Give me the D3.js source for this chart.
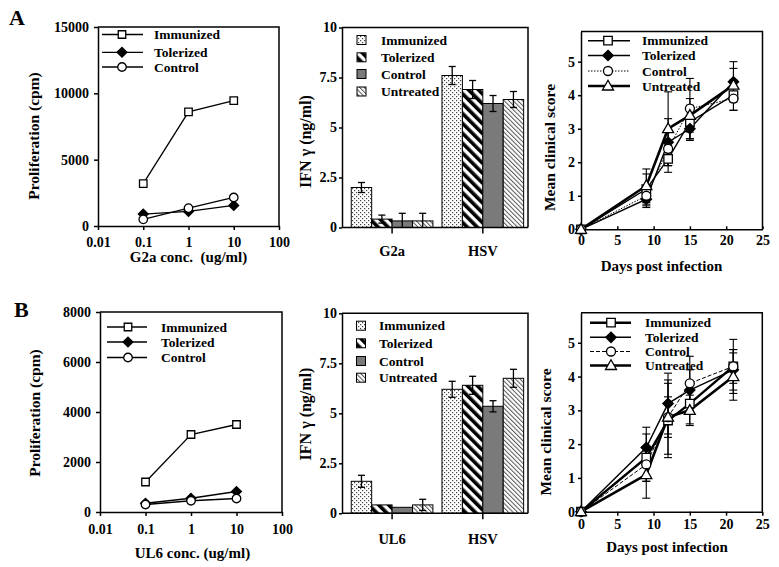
<!DOCTYPE html>
<html><head><meta charset="utf-8">
<script src="https://cdnjs.cloudflare.com/ajax/libs/d3/7.8.5/d3.min.js"></script>
<style>
body{margin:0;background:#fff}
text{font-family:"Liberation Serif","Times New Roman",serif;font-weight:bold;fill:#000}
</style>
</head><body>
<svg id="c" width="779" height="567"></svg>
<script>
// ---------------- DATA ----------------
const concentrations = [0.1, 1, 10];
const concTicks = [0.01, 0.1, 1, 10, 100];

const profA_Immunized = [3200, 8600, 9450];
const profA_Tolerized = [900, 1100, 1550];
const profA_Control   = [500, 1350, 2150];
const profA_yTicks = [0, 5000, 10000, 15000];

const profB_Immunized = [1200, 3100, 3500];
const profB_Tolerized = [350, 550, 820];
const profB_Control   = [300, 450, 540];
const profB_yTicks = [0, 2000, 4000, 6000, 8000];

const ifnSeries = ["Immunized", "Tolerized", "Control", "Untreated"];
const ifnGroupsA = ["G2a", "HSV"];
const ifnGroupsB = ["UL6", "HSV"];
const ifnTicks = [0, 2.5, 5, 7.5, 10];

const ifnA_Immunized = [2.0, 7.6];   const ifnA_Immunized_err = [0.25, 0.45];
const ifnA_Tolerized = [0.42, 6.9];  const ifnA_Tolerized_err = [0.2, 0.45];
const ifnA_Control   = [0.33, 6.2];  const ifnA_Control_err   = [0.38, 0.4];
const ifnA_Untreated = [0.33, 6.4];  const ifnA_Untreated_err = [0.38, 0.4];

const ifnB_Immunized = [1.6, 6.2];   const ifnB_Immunized_err = [0.3, 0.4];
const ifnB_Tolerized = [0.42, 6.4];  const ifnB_Tolerized_err = [0, 0.45];
const ifnB_Control   = [0.3, 5.35];  const ifnB_Control_err   = [0, 0.28];
const ifnB_Untreated = [0.42, 6.75]; const ifnB_Untreated_err = [0.28, 0.45];

const days = [0, 9, 12, 15, 21];
const dayTicks = [0, 5, 10, 15, 20, 25];
const scoreTicks = [0, 1, 2, 3, 4, 5];

const scoreA_Immunized = [0, 1.2, 2.1, 3.2, 4.0];  const scoreA_Immunized_err = [0, 0.45, 0.4, 0.5, 0.45];
const scoreA_Tolerized = [0, 0.9, 2.6, 3.0, 4.4];  const scoreA_Tolerized_err = [0, 0.25, 0.7, 0.35, 0.6];
const scoreA_Control   = [0, 1.0, 2.4, 3.6, 3.9];  const scoreA_Control_err   = [0, 0.3, 0.5, 0.9, 0.35];
const scoreA_Untreated = [0, 1.3, 3.0, 3.4, 4.3];  const scoreA_Untreated_err = [0, 0.5, 1.1, 0.5, 0.5];

const scoreB_Immunized = [0, 1.6, 2.7, 3.2, 4.3];  const scoreB_Immunized_err = [0, 0.7, 1.1, 0.6, 0.8];
const scoreB_Tolerized = [0, 1.9, 3.2, 3.6, 4.2];  const scoreB_Tolerized_err = [0, 0.6, 0.9, 0.6, 0.6];
const scoreB_Control   = [0, 1.4, 2.8, 3.8, 4.3];  const scoreB_Control_err   = [0, 0.5, 0.6, 0.8, 0.5];
const scoreB_Untreated = [0, 1.1, 2.8, 3.0, 4.0];  const scoreB_Untreated_err = [0, 0.7, 1.1, 0.45, 0.7];

// ---------------- DRAWING ----------------
const svg = d3.select("#c");
const defs = svg.append("defs");

const pd = defs.append("pattern").attr("id", "pDots").attr("patternUnits", "userSpaceOnUse")
  .attr("width", 4).attr("height", 4);
pd.append("rect").attr("width", 4).attr("height", 4).attr("fill", "#fff");
pd.append("rect").attr("x", 0).attr("y", 0).attr("width", 1.2).attr("height", 1.2).attr("fill", "#444");
pd.append("rect").attr("x", 2).attr("y", 2).attr("width", 1.2).attr("height", 1.2).attr("fill", "#444");

const ps = defs.append("pattern").attr("id", "pStripes").attr("patternUnits", "userSpaceOnUse")
  .attr("width", 7).attr("height", 7).attr("patternTransform", "rotate(-45)");
ps.append("rect").attr("width", 7).attr("height", 7).attr("fill", "#fff");
ps.append("rect").attr("width", 3.6).attr("height", 7).attr("fill", "#000");

const ph = defs.append("pattern").attr("id", "pHatch").attr("patternUnits", "userSpaceOnUse")
  .attr("width", 3.2).attr("height", 3.2).attr("patternTransform", "rotate(-45)");
ph.append("rect").attr("width", 3.2).attr("height", 3.2).attr("fill", "#fff");
ph.append("rect").attr("width", 1.0).attr("height", 3.2).attr("fill", "#555");

const barFills = {Immunized: "url(#pDots)", Tolerized: "url(#pStripes)", Control: "#7a7a7a", Untreated: "url(#pHatch)"};

function markerPath(type, s) {
  const h = s / 2;
  if (type === "square") return `M${-h},${-h}h${s}v${s}h${-s}Z`;
  if (type === "diamond") return `M0,${-h * 1.15}L${h * 1.15},0L0,${h * 1.15}L${-h * 1.15},0Z`;
  if (type === "triangle") return `M0,${-s * 0.6}L${s * 0.58},${s * 0.42}L${-s * 0.58},${s * 0.42}Z`;
  return d3.arc()({innerRadius: 0, outerRadius: h, startAngle: 0, endAngle: 2 * Math.PI});
}
function drawMarker(g, type, x, y, s) {
  g.append("path").attr("d", markerPath(type, s)).attr("transform", `translate(${x},${y})`)
    .attr("fill", type === "diamond" ? "#000" : "#fff").attr("stroke", "#000").attr("stroke-width", 1.3);
}

function styleAxis(ax, size) {
  ax.attr("font-family", null).attr("font-size", size);
  ax.selectAll("path,line").attr("stroke", "#000").attr("stroke-width", 1.5);
}
function frame(g, l, r, t, b) {
  g.append("path").attr("d", `M${l},${t}H${r}V${b}`).attr("fill", "none")
    .attr("stroke", "#000").attr("stroke-width", 1.5);
}
function yTitle(text, x, y, size) {
  svg.append("text").attr("transform", `translate(${x},${y}) rotate(-90)`).attr("dy", "0.35em")
    .attr("text-anchor", "middle").attr("font-size", size).text(text);
}
function xTitle(text, x, y, size) {
  svg.append("text").attr("x", x).attr("y", y).attr("text-anchor", "middle").attr("font-size", size)
    .style("white-space", "pre").text(text);
}

// ---------- Proliferation panels ----------
function prolifPanel(p) {
  const g = svg.append("g");
  const x = d3.scaleLog().domain([0.01, 100]).range([p.l, p.r]);
  const y = d3.scaleLinear().domain([0, p.ymax]).range([p.b, p.t]);
  frame(g, p.l, p.r, p.t, p.b);
  const ya = g.append("g").attr("transform", `translate(${p.l},0)`)
    .call(d3.axisLeft(y).tickValues(p.yTicks).tickSize(4).tickPadding(5).tickSizeOuter(0).tickFormat(d3.format("d")));
  styleAxis(ya, 14);
  const xa = g.append("g").attr("transform", `translate(0,${p.b})`)
    .call(d3.axisBottom(x).tickValues(concTicks).tickSize(4).tickPadding(p.xPad).tickSizeOuter(0).tickFormat(d => String(d)));
  styleAxis(xa, 14);
  const types = ["square", "diamond", "circle"];
  const sizes = [7.5, 8.5, 8.5];
  p.series.forEach((vals) => {
    const pts = concentrations.map((c, k) => [x(c), y(vals[k])]);
    g.append("path").attr("d", d3.line()(pts)).attr("fill", "none").attr("stroke", "#000").attr("stroke-width", 1.3);
  });
  p.series.forEach((vals, i) => {
    concentrations.forEach((c, k) => drawMarker(g, types[i], x(c), y(vals[k]), sizes[i]));
  });
  p.names.forEach((n, i) => {
    const ly = p.legY[i];
    g.append("line").attr("x1", p.legX0).attr("x2", p.legX1).attr("y1", ly).attr("y2", ly)
      .attr("stroke", "#000").attr("stroke-width", 1.3);
    drawMarker(g, types[i], p.legM, ly, sizes[i]);
    g.append("text").attr("x", p.legT).attr("y", ly).attr("dy", "0.35em").attr("font-size", 13.5).text(n);
  });
}

prolifPanel({l: 98, r: 279, t: 27, b: 226, ymax: 15000, yTicks: profA_yTicks, xPad: 7,
  series: [profA_Immunized, profA_Tolerized, profA_Control], names: ["Immunized", "Tolerized", "Control"],
  legX0: 102, legX1: 143, legM: 122, legT: 154, legY: [34.5, 52.3, 67]});
prolifPanel({l: 100, r: 282, t: 312, b: 512, ymax: 8000, yTicks: profB_yTicks, xPad: 8,
  series: [profB_Immunized, profB_Tolerized, profB_Control], names: ["Immunized", "Tolerized", "Control"],
  legX0: 107, legX1: 147, legM: 128, legT: 161, legY: [327, 342, 357.5]});

// ---------- IFN bar panels ----------
function barPanel(p) {
  const g = svg.append("g");
  const y = d3.scaleLinear().domain([0, 10]).range([p.b, p.t]);
  const x0 = d3.scaleBand().domain(p.groups).range([p.l, p.r]).paddingInner(0.1).paddingOuter(0.075).align(0.68);
  const x1 = d3.scaleBand().domain(ifnSeries).range([0, x0.bandwidth()]);
  p.means.forEach((vals, si) => {
    p.groups.forEach((grp, gi) => {
      const bx = x0(grp) + x1(ifnSeries[si]);
      g.append("rect").attr("x", bx).attr("y", y(vals[gi])).attr("width", x1.bandwidth())
        .attr("height", y(0) - y(vals[gi])).attr("fill", barFills[ifnSeries[si]])
        .attr("stroke", "#000").attr("stroke-width", 1);
    });
  });
  p.means.forEach((vals, si) => {
    p.groups.forEach((grp, gi) => {
      const e = p.errs[si][gi];
      if (!e) return;
      const cx = x0(grp) + x1(ifnSeries[si]) + x1.bandwidth() / 2;
      const hi = y(vals[gi] + e), lo = y(Math.max(0, vals[gi] - e));
      g.append("line").attr("x1", cx).attr("x2", cx).attr("y1", hi).attr("y2", lo).attr("stroke", "#000").attr("stroke-width", 1.3);
      g.append("line").attr("x1", cx - 3.5).attr("x2", cx + 3.5).attr("y1", hi).attr("y2", hi).attr("stroke", "#000").attr("stroke-width", 1.3);
      if (vals[gi] - e > 0)
        g.append("line").attr("x1", cx - 3.5).attr("x2", cx + 3.5).attr("y1", lo).attr("y2", lo).attr("stroke", "#000").attr("stroke-width", 1.3);
    });
  });
  frame(g, p.l, p.r, p.t, p.b);
  const ya = g.append("g").attr("transform", `translate(${p.l},0)`)
    .call(d3.axisLeft(y).tickValues(ifnTicks).tickSize(3).tickPadding(2).tickSizeOuter(0).tickFormat(d => String(d)));
  styleAxis(ya, 14);
  const xa = g.append("g").attr("transform", `translate(0,${p.b})`)
    .call(d3.axisBottom(x0).tickSize(6).tickPadding(p.catPad).tickSizeOuter(0));
  styleAxis(xa, 14.5);
  xa.selectAll("path.domain").attr("d", `M${p.l},0H${p.r}`);
  ifnSeries.forEach((n, i) => {
    const ly = p.legY[i];
    g.append("rect").attr("x", p.legX).attr("y", ly - 4.5).attr("width", 9).attr("height", 9)
      .attr("fill", barFills[n]).attr("stroke", "#000").attr("stroke-width", 1);
    g.append("text").attr("x", p.legT).attr("y", ly).attr("dy", "0.35em").attr("font-size", 13.5).text(n);
  });
}

barPanel({l: 342, r: 528, t: 27.5, b: 227.5, groups: ifnGroupsA, catPad: 12,
  means: [ifnA_Immunized, ifnA_Tolerized, ifnA_Control, ifnA_Untreated],
  errs: [ifnA_Immunized_err, ifnA_Tolerized_err, ifnA_Control_err, ifnA_Untreated_err],
  legX: 357, legT: 381, legY: [40, 57.3, 74, 91.5]});
barPanel({l: 342, r: 528, t: 313.3, b: 513.3, groups: ifnGroupsB, catPad: 14,
  means: [ifnB_Immunized, ifnB_Tolerized, ifnB_Control, ifnB_Untreated],
  errs: [ifnB_Immunized_err, ifnB_Tolerized_err, ifnB_Control_err, ifnB_Untreated_err],
  legX: 356.5, legT: 379, legY: [325.7, 343.3, 361, 377.7]});

// ---------- Clinical score panels ----------
function scorePanel(p) {
  const g = svg.append("g");
  const x = d3.scaleLinear().domain([0, 25]).range([p.l, p.r]);
  const y = d3.scaleLinear().domain([0, p.ymax]).range([p.b, p.t]);
  frame(g, p.l, p.r, p.t, p.b);
  const ya = g.append("g").attr("transform", `translate(${p.l},0)`)
    .call(d3.axisLeft(y).tickValues(scoreTicks).tickSize(3).tickPadding(3).tickSizeOuter(0).tickFormat(d3.format("d")));
  styleAxis(ya, 14);
  const xa = g.append("g").attr("transform", `translate(0,${p.b})`)
    .call(d3.axisBottom(x).tickValues(dayTicks).tickSize(p.xTick).tickPadding(p.xPad).tickSizeOuter(0).tickFormat(d3.format("d")));
  styleAxis(xa, 14);
  const types = ["square", "diamond", "circle", "triangle"];
  const sizes = [8.5, 9, 9, 9.5];
  p.series.forEach((vals, i) => {
    const pts = days.map((d, k) => [x(d), y(vals[k])]);
    g.append("path").attr("d", d3.line()(pts)).attr("fill", "none").attr("stroke", "#000")
      .attr("stroke-width", p.widths[i]).attr("stroke-dasharray", p.dashes[i]);
  });
  p.series.forEach((vals, i) => {
    days.forEach((d, k) => {
      const e = p.errs[i][k];
      if (!e) return;
      const cx = x(d), hi = y(vals[k] + e), lo = y(vals[k] - e);
      g.append("line").attr("x1", cx).attr("x2", cx).attr("y1", hi).attr("y2", lo).attr("stroke", "#000").attr("stroke-width", 1.1);
      [hi, lo].forEach(yy => g.append("line").attr("x1", cx - 4).attr("x2", cx + 4).attr("y1", yy).attr("y2", yy)
        .attr("stroke", "#000").attr("stroke-width", 1.1));
    });
  });
  p.series.forEach((vals, i) => {
    days.forEach((d, k) => drawMarker(g, types[i], x(d), y(vals[k]), sizes[i]));
  });
  p.names.forEach((n, i) => {
    const ly = p.legY[i];
    g.append("line").attr("x1", p.legX0).attr("x2", p.legX1).attr("y1", ly).attr("y2", ly)
      .attr("stroke", "#000").attr("stroke-width", p.widths[i]).attr("stroke-dasharray", p.dashes[i]);
    drawMarker(g, types[i], p.legM, ly, sizes[i]);
    g.append("text").attr("x", p.legT).attr("y", ly).attr("dy", "0.35em").attr("font-size", 13.5).text(n);
  });
}

scorePanel({l: 581, r: 762.5, t: 31.5, b: 229.3, ymax: 5.9, xTick: -3, xPad: 5.5,
  series: [scoreA_Immunized, scoreA_Tolerized, scoreA_Control, scoreA_Untreated],
  errs: [scoreA_Immunized_err, scoreA_Tolerized_err, scoreA_Control_err, scoreA_Untreated_err],
  widths: [1.4, 1.4, 1, 2.6], dashes: [null, null, "1.5,1.5", null],
  names: ["Immunized", "Tolerized", "Control", "Untreated"],
  legX0: 588, legX1: 630, legM: 608, legT: 642, legY: [40.7, 55.5, 71, 86]});
scorePanel({l: 581, r: 762.3, t: 312.7, b: 511.7, ymax: 5.89, xTick: 4, xPad: 3.5,
  series: [scoreB_Immunized, scoreB_Tolerized, scoreB_Control, scoreB_Untreated],
  errs: [scoreB_Immunized_err, scoreB_Tolerized_err, scoreB_Control_err, scoreB_Untreated_err],
  widths: [2.4, 1.4, 1, 2.6], dashes: [null, null, "4,2", null],
  names: ["Immunized", "Tolerized", "Control", "Untreated"],
  legX0: 590, legX1: 631, legM: 611, legT: 645, legY: [322.7, 337.3, 351.5, 365.5]});

// ---------- Titles ----------
yTitle("Proliferation (cpm)", 33.5, 136, 15.5);
yTitle("Proliferation (cpm)", 35, 413, 15.5);
yTitle("IFN \u03b3 (ng/ml)", 305, 141.5, 16);
yTitle("IFN \u03b3 (ng/ml)", 305, 414, 16);
yTitle("Mean clinical score", 550, 147.5, 15.5);
yTitle("Mean clinical score", 546, 432, 15.5);

xTitle("G2a conc.  (ug/ml)", 188.5, 262, 15);
xTitle("UL6 conc. (ug/ml)", 192.5, 558, 15);
xTitle("Days post infection", 661.5, 271, 15);
xTitle("Days post infection", 667, 552, 15);

svg.append("text").attr("x", 9).attr("y", 24.5).attr("font-size", 22).text("A");
svg.append("text").attr("x", 14).attr("y", 317).attr("font-size", 22).text("B");
</script>
</body></html>
